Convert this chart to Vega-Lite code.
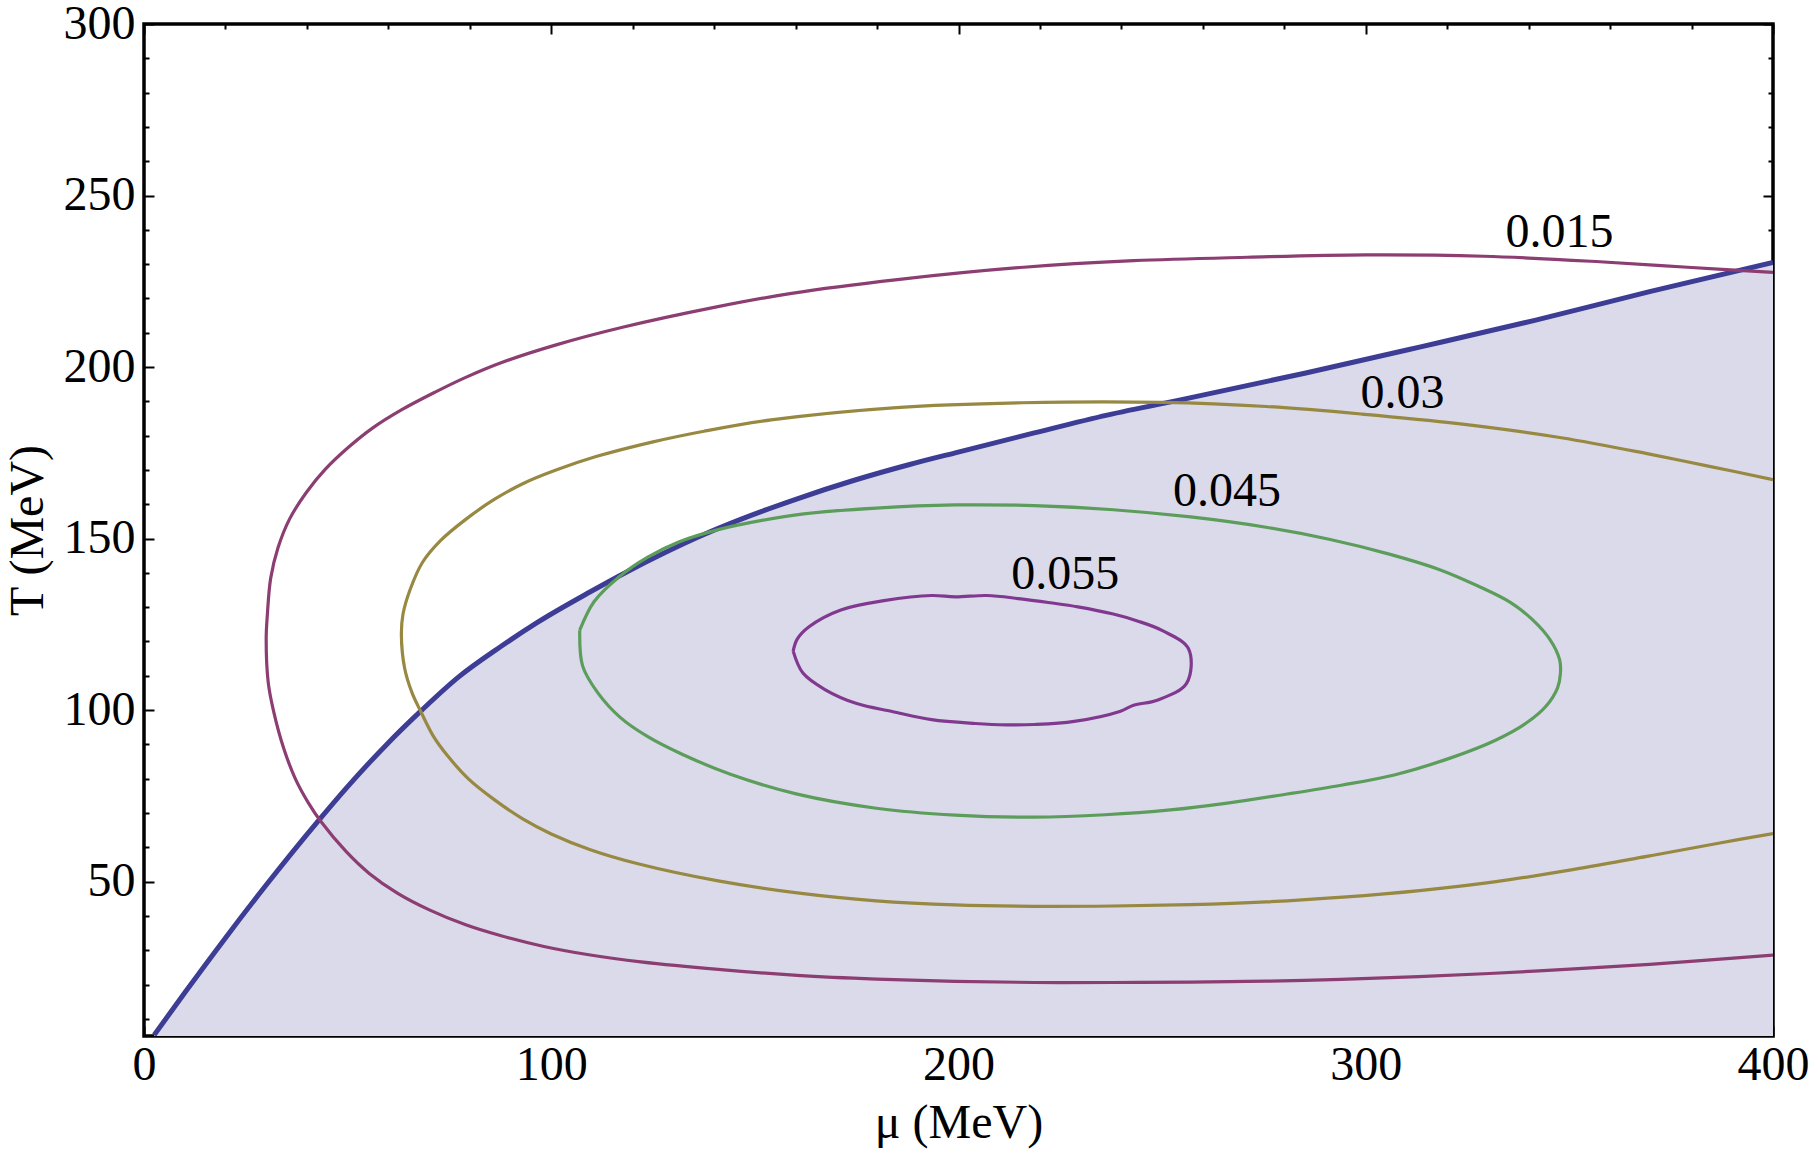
{
  "$schema": "https://vega.github.io/schema/vega-lite/v6.json",
  "width": 1629,
  "height": 1012,
  "autosize": "none",
  "padding": {"left": 144, "top": 24, "right": 39, "bottom": 118},
  "datasets": {
    "boundary": [
      {"mu": 2.5, "T": 5.3}, {"mu": 10, "T": 17.6}, {"mu": 20, "T": 33.6},
      {"mu": 30, "T": 49}, {"mu": 43, "T": 68}, {"mu": 50, "T": 77.7},
      {"mu": 59.6, "T": 90}, {"mu": 68.4, "T": 100.2}, {"mu": 77.2, "T": 109.6},
      {"mu": 87.7, "T": 118.6}, {"mu": 96.5, "T": 125.5}, {"mu": 109.6, "T": 134.5},
      {"mu": 118.4, "T": 140.2}, {"mu": 127.2, "T": 145.5}, {"mu": 137.5, "T": 151.2},
      {"mu": 146.5, "T": 155.6}, {"mu": 160.4, "T": 161.6}, {"mu": 174.4, "T": 167},
      {"mu": 188, "T": 171.6}, {"mu": 199.2, "T": 175}, {"mu": 218.6, "T": 180.8},
      {"mu": 236.5, "T": 186}, {"mu": 256.8, "T": 191}, {"mu": 285, "T": 198.2},
      {"mu": 313.2, "T": 205.8}, {"mu": 341.5, "T": 213.6}, {"mu": 369.7, "T": 222},
      {"mu": 400, "T": 230.5}
    ],
    "contours": [
      {"level": "0.015", "i": 0, "mu": 400, "T": 227.6},
      {"level": "0.015", "i": 1, "mu": 379, "T": 229.1},
      {"level": "0.015", "i": 2, "mu": 357.5, "T": 230.7},
      {"level": "0.015", "i": 3, "mu": 329, "T": 232.3},
      {"level": "0.015", "i": 4, "mu": 300, "T": 232.7},
      {"level": "0.015", "i": 5, "mu": 271, "T": 232},
      {"level": "0.015", "i": 6, "mu": 243, "T": 231},
      {"level": "0.015", "i": 7, "mu": 216, "T": 229.1},
      {"level": "0.015", "i": 8, "mu": 185, "T": 225.5},
      {"level": "0.015", "i": 9, "mu": 159, "T": 221.5},
      {"level": "0.015", "i": 10, "mu": 140, "T": 217.4},
      {"level": "0.015", "i": 11, "mu": 117.5, "T": 211.6},
      {"level": "0.015", "i": 12, "mu": 101, "T": 206.4},
      {"level": "0.015", "i": 13, "mu": 88, "T": 201.4},
      {"level": "0.015", "i": 14, "mu": 79, "T": 197},
      {"level": "0.015", "i": 15, "mu": 71.5, "T": 192.7},
      {"level": "0.015", "i": 16, "mu": 63.2, "T": 187.5},
      {"level": "0.015", "i": 17, "mu": 56.1, "T": 182.2},
      {"level": "0.015", "i": 18, "mu": 50.2, "T": 176.6},
      {"level": "0.015", "i": 19, "mu": 44.6, "T": 170.3},
      {"level": "0.015", "i": 20, "mu": 39.9, "T": 163.5},
      {"level": "0.015", "i": 21, "mu": 35.7, "T": 155.6},
      {"level": "0.015", "i": 22, "mu": 32.9, "T": 147.3},
      {"level": "0.015", "i": 23, "mu": 31.1, "T": 138.4},
      {"level": "0.015", "i": 24, "mu": 30.3, "T": 128},
      {"level": "0.015", "i": 25, "mu": 30, "T": 120.7},
      {"level": "0.015", "i": 26, "mu": 30.5, "T": 108.1},
      {"level": "0.015", "i": 27, "mu": 31.8, "T": 99.8},
      {"level": "0.015", "i": 28, "mu": 34.4, "T": 88.5},
      {"level": "0.015", "i": 29, "mu": 37.2, "T": 79.9},
      {"level": "0.015", "i": 30, "mu": 40.4, "T": 72.9},
      {"level": "0.015", "i": 31, "mu": 43.4, "T": 67.6},
      {"level": "0.015", "i": 32, "mu": 49.6, "T": 58.8},
      {"level": "0.015", "i": 33, "mu": 55.3, "T": 52.4},
      {"level": "0.015", "i": 34, "mu": 62.3, "T": 46.6},
      {"level": "0.015", "i": 35, "mu": 70.2, "T": 41.7},
      {"level": "0.015", "i": 36, "mu": 79, "T": 37.4},
      {"level": "0.015", "i": 37, "mu": 87.7, "T": 34.2},
      {"level": "0.015", "i": 38, "mu": 98.2, "T": 31.1},
      {"level": "0.015", "i": 39, "mu": 109.6, "T": 28.6},
      {"level": "0.015", "i": 40, "mu": 122, "T": 26.6},
      {"level": "0.015", "i": 41, "mu": 141, "T": 24.4},
      {"level": "0.015", "i": 42, "mu": 160.4, "T": 22.7},
      {"level": "0.015", "i": 43, "mu": 179.8, "T": 21.6},
      {"level": "0.015", "i": 44, "mu": 199.2, "T": 20.9},
      {"level": "0.015", "i": 45, "mu": 218.6, "T": 20.6},
      {"level": "0.015", "i": 46, "mu": 238, "T": 20.6},
      {"level": "0.015", "i": 47, "mu": 257, "T": 20.7},
      {"level": "0.015", "i": 48, "mu": 285, "T": 21.2},
      {"level": "0.015", "i": 49, "mu": 313, "T": 22.3},
      {"level": "0.015", "i": 50, "mu": 341.4, "T": 23.9},
      {"level": "0.015", "i": 51, "mu": 369.7, "T": 25.9},
      {"level": "0.015", "i": 52, "mu": 400, "T": 28.6},

      {"level": "0.03", "i": 0, "mu": 400, "T": 167.2},
      {"level": "0.03", "i": 1, "mu": 383.8, "T": 171.2},
      {"level": "0.03", "i": 2, "mu": 369.7, "T": 174.6},
      {"level": "0.03", "i": 3, "mu": 348, "T": 179.4},
      {"level": "0.03", "i": 4, "mu": 322.7, "T": 183.5},
      {"level": "0.03", "i": 5, "mu": 299, "T": 186.3},
      {"level": "0.03", "i": 6, "mu": 275.6, "T": 188.5},
      {"level": "0.03", "i": 7, "mu": 250, "T": 189.7},
      {"level": "0.03", "i": 8, "mu": 215.8, "T": 189.6},
      {"level": "0.03", "i": 9, "mu": 184.8, "T": 188.2},
      {"level": "0.03", "i": 10, "mu": 154, "T": 184.6},
      {"level": "0.03", "i": 11, "mu": 137.5, "T": 181.3},
      {"level": "0.03", "i": 12, "mu": 125, "T": 178.2},
      {"level": "0.03", "i": 13, "mu": 111, "T": 173.9},
      {"level": "0.03", "i": 14, "mu": 101, "T": 169.9},
      {"level": "0.03", "i": 15, "mu": 93, "T": 166},
      {"level": "0.03", "i": 16, "mu": 86, "T": 161.4},
      {"level": "0.03", "i": 17, "mu": 79, "T": 155.6},
      {"level": "0.03", "i": 18, "mu": 72.8, "T": 149.4},
      {"level": "0.03", "i": 19, "mu": 68.4, "T": 143.1},
      {"level": "0.03", "i": 20, "mu": 65.4, "T": 135.3},
      {"level": "0.03", "i": 21, "mu": 63.6, "T": 128},
      {"level": "0.03", "i": 22, "mu": 63.2, "T": 122},
      {"level": "0.03", "i": 23, "mu": 64, "T": 112.2},
      {"level": "0.03", "i": 24, "mu": 65.8, "T": 105.1},
      {"level": "0.03", "i": 25, "mu": 68, "T": 99.5},
      {"level": "0.03", "i": 26, "mu": 71, "T": 92.5},
      {"level": "0.03", "i": 27, "mu": 74.6, "T": 86.6},
      {"level": "0.03", "i": 28, "mu": 79.8, "T": 79.8},
      {"level": "0.03", "i": 29, "mu": 86, "T": 73.9},
      {"level": "0.03", "i": 30, "mu": 93, "T": 68.3},
      {"level": "0.03", "i": 31, "mu": 100, "T": 63.9},
      {"level": "0.03", "i": 32, "mu": 109.6, "T": 59.3},
      {"level": "0.03", "i": 33, "mu": 121.3, "T": 55.2},
      {"level": "0.03", "i": 34, "mu": 141, "T": 50.2},
      {"level": "0.03", "i": 35, "mu": 160.4, "T": 46.7},
      {"level": "0.03", "i": 36, "mu": 179.8, "T": 44.4},
      {"level": "0.03", "i": 37, "mu": 199.2, "T": 43.2},
      {"level": "0.03", "i": 38, "mu": 218.6, "T": 42.8},
      {"level": "0.03", "i": 39, "mu": 238, "T": 42.9},
      {"level": "0.03", "i": 40, "mu": 257, "T": 43.3},
      {"level": "0.03", "i": 41, "mu": 275.5, "T": 44.1},
      {"level": "0.03", "i": 42, "mu": 294.4, "T": 45.5},
      {"level": "0.03", "i": 43, "mu": 313.2, "T": 47.4},
      {"level": "0.03", "i": 44, "mu": 332, "T": 50},
      {"level": "0.03", "i": 45, "mu": 350.8, "T": 53.5},
      {"level": "0.03", "i": 46, "mu": 369.7, "T": 57.5},
      {"level": "0.03", "i": 47, "mu": 386.6, "T": 61.2},
      {"level": "0.03", "i": 48, "mu": 400, "T": 64},

      {"level": "0.045", "i": 0, "mu": 107, "T": 123.3},
      {"level": "0.045", "i": 1, "mu": 110.5, "T": 131.6},
      {"level": "0.045", "i": 2, "mu": 116.7, "T": 138.9},
      {"level": "0.045", "i": 3, "mu": 123.7, "T": 144.6},
      {"level": "0.045", "i": 4, "mu": 131.3, "T": 149},
      {"level": "0.045", "i": 5, "mu": 141, "T": 152.6},
      {"level": "0.045", "i": 6, "mu": 151.7, "T": 155.3},
      {"level": "0.045", "i": 7, "mu": 162, "T": 157.2},
      {"level": "0.045", "i": 8, "mu": 179.8, "T": 158.9},
      {"level": "0.045", "i": 9, "mu": 199.2, "T": 159.8},
      {"level": "0.045", "i": 10, "mu": 218.6, "T": 159.6},
      {"level": "0.045", "i": 11, "mu": 238, "T": 158.4},
      {"level": "0.045", "i": 12, "mu": 257, "T": 156.3},
      {"level": "0.045", "i": 13, "mu": 275.5, "T": 153.3},
      {"level": "0.045", "i": 14, "mu": 291, "T": 149.8},
      {"level": "0.045", "i": 15, "mu": 306, "T": 145.4},
      {"level": "0.045", "i": 16, "mu": 318, "T": 141},
      {"level": "0.045", "i": 17, "mu": 327.3, "T": 136.3},
      {"level": "0.045", "i": 18, "mu": 335.5, "T": 131.4},
      {"level": "0.045", "i": 19, "mu": 340.8, "T": 126.5},
      {"level": "0.045", "i": 20, "mu": 345.2, "T": 120.6},
      {"level": "0.045", "i": 21, "mu": 347.6, "T": 114.7},
      {"level": "0.045", "i": 22, "mu": 347.8, "T": 110.6},
      {"level": "0.045", "i": 23, "mu": 347.1, "T": 106.5},
      {"level": "0.045", "i": 24, "mu": 344.3, "T": 101.2},
      {"level": "0.045", "i": 25, "mu": 339.5, "T": 96.3},
      {"level": "0.045", "i": 26, "mu": 332, "T": 91.3},
      {"level": "0.045", "i": 27, "mu": 320.7, "T": 86},
      {"level": "0.045", "i": 28, "mu": 307, "T": 81.1},
      {"level": "0.045", "i": 29, "mu": 294, "T": 78.1},
      {"level": "0.045", "i": 30, "mu": 280, "T": 75.4},
      {"level": "0.045", "i": 31, "mu": 266, "T": 72.9},
      {"level": "0.045", "i": 32, "mu": 252, "T": 70.9},
      {"level": "0.045", "i": 33, "mu": 236, "T": 69.5},
      {"level": "0.045", "i": 34, "mu": 218.6, "T": 68.8},
      {"level": "0.045", "i": 35, "mu": 199.2, "T": 69.4},
      {"level": "0.045", "i": 36, "mu": 179.8, "T": 71.4},
      {"level": "0.045", "i": 37, "mu": 160.4, "T": 75.5},
      {"level": "0.045", "i": 38, "mu": 144, "T": 81.3},
      {"level": "0.045", "i": 39, "mu": 132, "T": 87.2},
      {"level": "0.045", "i": 40, "mu": 123.5, "T": 92.4},
      {"level": "0.045", "i": 41, "mu": 117, "T": 97.8},
      {"level": "0.045", "i": 42, "mu": 111.4, "T": 105.1},
      {"level": "0.045", "i": 43, "mu": 107.7, "T": 112.9},
      {"level": "0.045", "i": 44, "mu": 107, "T": 123.3},

      {"level": "0.055", "i": 0, "mu": 159.4, "T": 117.2},
      {"level": "0.055", "i": 1, "mu": 160.4, "T": 120.7},
      {"level": "0.055", "i": 2, "mu": 163.3, "T": 124.3},
      {"level": "0.055", "i": 3, "mu": 171.1, "T": 129.2},
      {"level": "0.055", "i": 4, "mu": 181.7, "T": 131.9},
      {"level": "0.055", "i": 5, "mu": 193.4, "T": 133.4},
      {"level": "0.055", "i": 6, "mu": 199.2, "T": 133},
      {"level": "0.055", "i": 7, "mu": 207, "T": 133.4},
      {"level": "0.055", "i": 8, "mu": 214.8, "T": 132.5},
      {"level": "0.055", "i": 9, "mu": 222.5, "T": 131.3},
      {"level": "0.055", "i": 10, "mu": 229.3, "T": 130.1},
      {"level": "0.055", "i": 11, "mu": 238, "T": 128},
      {"level": "0.055", "i": 12, "mu": 243.9, "T": 126},
      {"level": "0.055", "i": 13, "mu": 250.2, "T": 123.1},
      {"level": "0.055", "i": 14, "mu": 256.5, "T": 117.8},
      {"level": "0.055", "i": 15, "mu": 256, "T": 107.8},
      {"level": "0.055", "i": 16, "mu": 248.8, "T": 102.9},
      {"level": "0.055", "i": 17, "mu": 243, "T": 101.4},
      {"level": "0.055", "i": 18, "mu": 239.6, "T": 99.6},
      {"level": "0.055", "i": 19, "mu": 228.4, "T": 96.7},
      {"level": "0.055", "i": 20, "mu": 218.6, "T": 95.8},
      {"level": "0.055", "i": 21, "mu": 211.8, "T": 95.7},
      {"level": "0.055", "i": 22, "mu": 204.1, "T": 96.1},
      {"level": "0.055", "i": 23, "mu": 193.4, "T": 97.2},
      {"level": "0.055", "i": 24, "mu": 183.7, "T": 99.6},
      {"level": "0.055", "i": 25, "mu": 175, "T": 101.9},
      {"level": "0.055", "i": 26, "mu": 167.2, "T": 106},
      {"level": "0.055", "i": 27, "mu": 161.8, "T": 110.8},
      {"level": "0.055", "i": 28, "mu": 159.4, "T": 117.2}
    ],
    "labels": [
      {"label": "0.015", "mu": 347.6, "T": 234.9},
      {"label": "0.03", "mu": 309, "T": 188.1},
      {"label": "0.045", "mu": 265.9, "T": 159.4},
      {"label": "0.055", "mu": 226.2, "T": 135.4}
    ]
  },
  "layer": [
    {
      "data": {"name": "boundary"},
      "mark": {"type": "area", "color": "#dadaea", "interpolate": "monotone", "clip": true},
      "encoding": {
        "x": {
          "field": "mu", "type": "quantitative",
          "scale": {"domain": [0, 400], "nice": false, "zero": false},
          "axis": {
            "orient": "bottom", "values": [0, 100, 200, 300, 400], "ticks": false,
            "labelPadding": 5, "labelFlush": false, "labelOverlap": false,
            "title": "μ (MeV)", "titleX": 814.5, "titleY": 101, "titleBaseline": "alphabetic"
          }
        },
        "y": {
          "field": "T", "type": "quantitative",
          "scale": {"domain": [5, 300], "nice": false, "zero": false},
          "axis": {
            "orient": "left", "values": [50, 100, 150, 200, 250, 300], "ticks": false,
            "labelPadding": 9, "labelFlush": false, "labelOverlap": false,
            "title": "T (MeV)", "titleX": -116, "titleY": 506, "titleBaseline": "middle"
          }
        },
        "y2": {"datum": 5}
      }
    },
    {
      "data": {"name": "boundary"},
      "mark": {"type": "line", "color": "#3d3d96", "strokeWidth": 5, "interpolate": "monotone", "clip": true},
      "encoding": {
        "x": {"field": "mu", "type": "quantitative",
              "axis": {"orient": "bottom", "values": [0, 100, 200, 300, 400], "tickSize": -10, "labels": false, "title": null}},
        "y": {"field": "T", "type": "quantitative",
              "axis": {"orient": "left", "values": [50, 100, 150, 200, 250, 300], "tickSize": -10, "labels": false, "title": null}}
      }
    },
    {
      "data": {"name": "contours"},
      "mark": {"type": "line", "strokeWidth": 3.2, "interpolate": "catmull-rom", "clip": true},
      "encoding": {
        "x": {"field": "mu", "type": "quantitative",
              "axis": {"orient": "bottom", "values": [20, 40, 60, 80, 120, 140, 160, 180, 220, 240, 260, 280, 320, 340, 360, 380], "tickSize": -5, "labels": false, "title": null}},
        "y": {"field": "T", "type": "quantitative",
              "axis": {"orient": "left", "values": [10, 20, 30, 40, 60, 70, 80, 90, 110, 120, 130, 140, 160, 170, 180, 190, 210, 220, 230, 240, 260, 270, 280, 290], "tickSize": -5, "labels": false, "title": null}},
        "color": {
          "field": "level", "type": "nominal",
          "scale": {"domain": ["0.015", "0.03", "0.045", "0.055"], "range": ["#8c3d71", "#978842", "#5c9d5b", "#81398f"]},
          "legend": null
        },
        "detail": {"field": "level"},
        "order": {"field": "i", "type": "quantitative"}
      }
    },
    {
      "data": {"name": "labels"},
      "mark": {"type": "text", "font": "Liberation Serif", "fontSize": 48, "align": "center", "baseline": "alphabetic", "color": "black"},
      "encoding": {
        "x": {"field": "mu", "type": "quantitative",
              "axis": {"orient": "top", "values": [0, 100, 200, 300, 400], "tickSize": -10, "labels": false, "title": null}},
        "y": {"field": "T", "type": "quantitative",
              "axis": {"orient": "right", "values": [50, 100, 150, 200, 250, 300], "tickSize": -10, "labels": false, "title": null}},
        "text": {"field": "label"}
      }
    },
    {
      "data": {"name": "labels"},
      "mark": {"type": "point", "opacity": 0},
      "encoding": {
        "x": {"field": "mu", "type": "quantitative",
              "axis": {"orient": "top", "values": [20, 40, 60, 80, 120, 140, 160, 180, 220, 240, 260, 280, 320, 340, 360, 380], "tickSize": -5, "labels": false, "title": null}},
        "y": {"field": "T", "type": "quantitative",
              "axis": {"orient": "right", "values": [10, 20, 30, 40, 60, 70, 80, 90, 110, 120, 130, 140, 160, 170, 180, 190, 210, 220, 230, 240, 260, 270, 280, 290], "tickSize": -5, "labels": false, "title": null}}
      }
    }
  ],
  "resolve": {"axis": {"x": "independent", "y": "independent"}},
  "config": {
    "view": {"stroke": "black", "strokeWidth": 3.5},
    "axis": {
      "grid": false,
      "domain": false,
      "tickColor": "black",
      "tickWidth": 2,
      "labelFont": "Liberation Serif",
      "labelFontSize": 48,
      "labelColor": "black",
      "titleFont": "Liberation Serif",
      "titleFontSize": 48,
      "titleFontWeight": "normal",
      "titleColor": "black"
    }
  }
}
